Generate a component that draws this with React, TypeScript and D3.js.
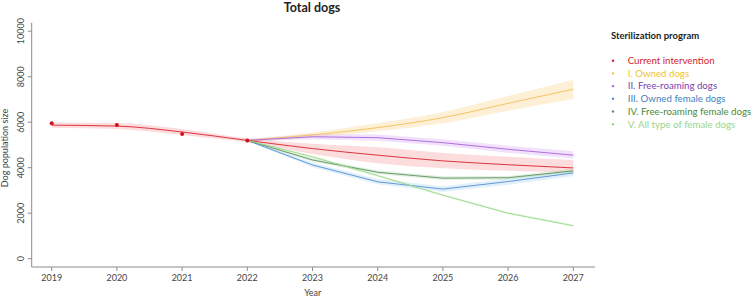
import React from "react";
import * as d3 from "d3";

const years = [2019, 2020, 2021, 2022, 2023, 2024, 2025, 2026, 2027];
const projYears = [2022, 2023, 2024, 2025, 2026, 2027];
const obsYears = [2019, 2020, 2021, 2022];
const observed = [5950, 5880, 5480, 5200];

const currentMid = [5870, 5830, 5570, 5200, 4840, 4550, 4300, 4130, 3990];
const currentUp = [5990, 5960, 5700, 5290, 5050, 4900, 4650, 4480, 4340];
const currentLo = [5760, 5700, 5440, 5110, 4600, 4200, 3980, 3870, 3800];

const ownedMid = [5200, 5440, 5760, 6200, 6830, 7450];
const ownedUp = [5250, 5550, 5950, 6450, 7150, 7870];
const ownedLo = [5150, 5330, 5600, 5950, 6500, 7020];

const freeMid = [5200, 5360, 5320, 5100, 4810, 4550];
const freeUp = [5260, 5480, 5460, 5250, 4970, 4720];
const freeLo = [5150, 5250, 5190, 4960, 4660, 4400];

const ownedFemMid = [5200, 4120, 3380, 3060, 3390, 3770];
const ownedFemUp = [5230, 4220, 3500, 3190, 3520, 3900];
const ownedFemLo = [5170, 4020, 3270, 2930, 3250, 3630];

const freeFemMid = [5200, 4340, 3800, 3540, 3560, 3860];
const freeFemUp = [5240, 4420, 3880, 3620, 3640, 3940];
const freeFemLo = [5160, 4260, 3720, 3460, 3480, 3780];

const allFemMid = [5200, 4480, 3650, 2790, 2000, 1450];
const allFemUp = [5220, 4530, 3700, 2840, 2050, 1500];
const allFemLo = [5180, 4430, 3600, 2740, 1950, 1400];

const yTicks = [0, 2000, 4000, 6000, 8000, 10000];

const legendLabels = [
  "Current intervention",
  "I. Owned dogs",
  "II. Free-roaming dogs",
  "III. Owned female dogs",
  "IV. Free-roaming female dogs",
  "V. All type of female dogs",
];
const lineColors = ["#d8232f", "#f0c056", "#a862dc", "#5290d4", "#5e9160", "#98d888"];
const textColors = ["#d2232a", "#f0c330", "#7d3fb0", "#3f7fc0", "#4a8a3c", "#9ad48a"];
const bandColors = ["#f59a9a", "#fcd48a", "#d7a8f5", "#a8d3f2", "#a9d2a4", "#c4eab9"];

export default function App() {
  const W = 754, H = 304;
  const x = d3.scaleLinear().domain([2019, 2027]).range([51.7, 573.3]);
  const y = d3.scaleLinear().domain([0, 10000]).range([258.7, 31.2]);
  const axisY = 267;
  const axisX = 31.7;

  const series = [
    { xs: years, mid: currentMid, up: currentUp, lo: currentLo },
    { xs: projYears, mid: ownedMid, up: ownedUp, lo: ownedLo },
    { xs: projYears, mid: freeMid, up: freeUp, lo: freeLo },
    { xs: projYears, mid: ownedFemMid, up: ownedFemUp, lo: ownedFemLo },
    { xs: projYears, mid: freeFemMid, up: freeFemUp, lo: freeFemLo },
    { xs: projYears, mid: allFemMid, up: allFemUp, lo: allFemLo },
  ];

  const makeLine = (curve: d3.CurveFactory) =>
    d3
      .line<[number, number]>()
      .x((d) => x(d[0]))
      .y((d) => y(d[1]))
      .curve(curve);
  const makeArea = (curve: d3.CurveFactory) =>
    d3
      .area<[number, number, number]>()
      .x((d) => x(d[0]))
      .y0((d) => y(d[1]))
      .y1((d) => y(d[2]))
      .curve(curve);
  const curveFor = (i: number) => (i === 0 || i === 1 ? d3.curveMonotoneX : d3.curveLinear);

  const font = "Lato, 'Open Sans', sans-serif";
  const axisColor = "#8c8c8c";
  const drawOrder = [1, 2, 0, 3, 4, 5];

  return (
    <>
      <style>{`body{margin:0}`}</style>
      <svg width={W} height={H} style={{ display: "block", background: "#fff" }} fontFamily={font}>
        <text x={312} y={12} textAnchor="middle" fontSize={12.5} fontWeight="bold" fill="#222">
          Total dogs
        </text>

        {drawOrder.map((i) => {
          const s = series[i];
          const pts = s.xs.map((yr, k) => [yr, s.lo[k], s.up[k]] as [number, number, number]);
          return (
            <path key={"b" + i} d={makeArea(curveFor(i))(pts) || ""} fill={bandColors[i]} fillOpacity={0.35} stroke="none" />
          );
        })}
        {drawOrder.map((i) => {
          const s = series[i];
          const pts = s.xs.map((yr, k) => [yr, s.mid[k]] as [number, number]);
          return (
            <path key={"l" + i} d={makeLine(curveFor(i))(pts) || ""} fill="none" stroke={lineColors[i]} strokeWidth={0.9} />
          );
        })}
        {obsYears.map((yr, k) => (
          <circle key={"o" + yr} cx={x(yr)} cy={y(observed[k])} r={2} fill="#d0101c" />
        ))}

        <line x1={axisX} x2={axisX} y1={22.7} y2={axisY} stroke={axisColor} strokeWidth={1} />
        <line x1={axisX} x2={595} y1={axisY} y2={axisY} stroke={axisColor} strokeWidth={1} />
        {yTicks.map((t) => (
          <g key={"yt" + t}>
            <line x1={axisX - 4} x2={axisX} y1={y(t)} y2={y(t)} stroke={axisColor} />
            <text
              transform={`translate(${axisX - 8},${y(t)}) rotate(-90)`}
              textAnchor="middle"
              fontSize={9}
              fill="#444"
            >
              {t}
            </text>
          </g>
        ))}
        {years.map((yr) => (
          <g key={"xt" + yr}>
            <line x1={x(yr)} x2={x(yr)} y1={axisY} y2={axisY + 4} stroke={axisColor} />
            <text x={x(yr)} y={axisY + 14} textAnchor="middle" fontSize={9} fill="#444">
              {yr}
            </text>
          </g>
        ))}
        <text x={312.7} y={296} textAnchor="middle" fontSize={9} fill="#444">
          Year
        </text>
        <text transform={`translate(7.5,148) rotate(-90)`} textAnchor="middle" fontSize={9} fill="#444">
          Dog population size
        </text>

        <text x={611} y={38.5} fontSize={9.5} fontWeight="bold" fill="#222">
          Sterilization program
        </text>
        {legendLabels.map((lab, i) => (
          <g key={"lg" + i}>
            <circle cx={613} cy={60.7 + i * 12.7} r={1.2} fill={lineColors[i]} />
            <text x={627.7} y={60.7 + i * 12.7 + 3.3} fontSize={9.7} fill={textColors[i]}>
              {lab}
            </text>
          </g>
        ))}
      </svg>
    </>
  );
}
